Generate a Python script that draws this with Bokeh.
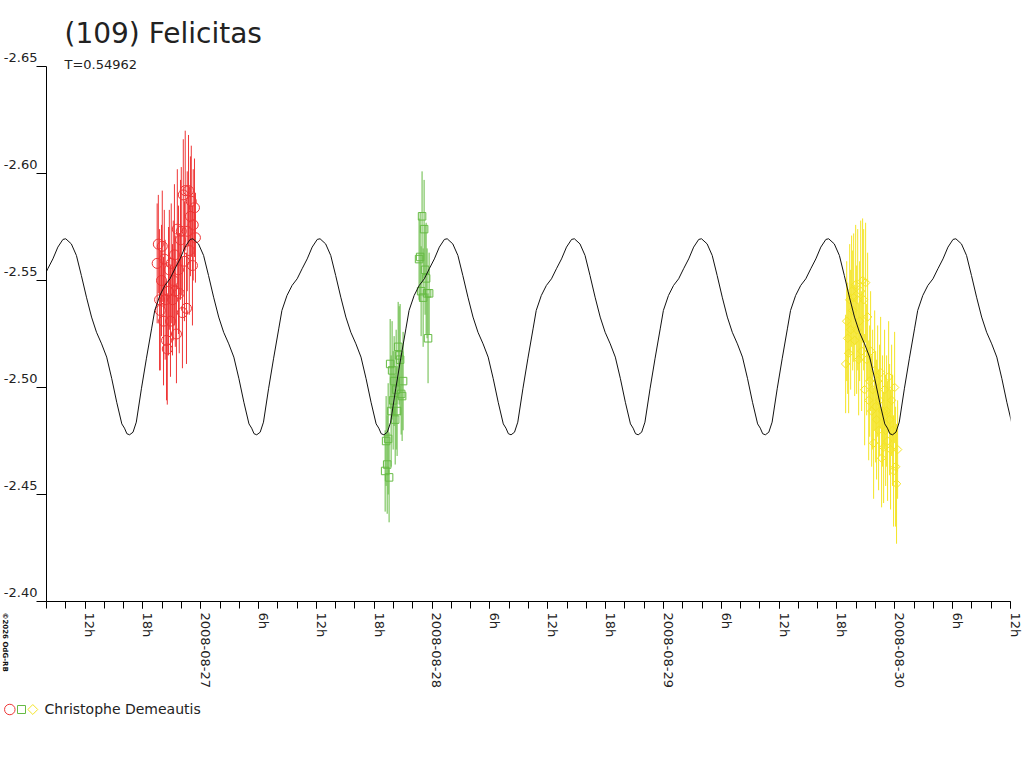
import numpy as np
import pandas as pd
from bokeh.plotting import figure
from bokeh.models import Range1d, FixedTicker, CustomJSTickFormatter, Title, ColumnDataSource
from bokeh.layouts import column, row
from bokeh.embed import file_html
from bokeh.resources import INLINE
from bokeh.core.properties import value

# ---------------- data ----------------
BASE = "2008-08-26 00:00"          # times below are hours after this instant (UT)
TITLE = "(109) Felicitas"
PERIOD_D = 0.54962                 # T (days)
SUBTITLE = "T=0.54962"
OBSERVER = "Christophe Demeautis"
COPYRIGHT = "\u00a92026 OdG-RB"

x_start_h = 8.0
x_end_h = 108.0
x_major_h = [12, 18, 24, 30, 36, 42, 48, 54, 60, 66, 72, 78, 84, 90, 96, 102, 108]
x_minor_h = list(range(8, 109, 2))
y_ticks = [-2.65, -2.60, -2.55, -2.50, -2.45, -2.40]

# session 1 (red circles)
red_t = [19.48, 19.60, 19.73, 19.80, 19.93, 20.01, 20.14, 20.22, 20.31, 20.45,
         20.53, 20.66, 20.74, 20.86, 20.94, 21.07, 21.15, 21.27, 21.36, 21.48,
         21.57, 21.69, 21.77, 21.90, 21.98, 22.10, 22.19, 22.31, 22.39, 22.52,
         22.60, 22.73, 22.81, 22.93, 23.02, 23.14, 23.22, 23.35, 23.45]
red_mag = [-2.558, -2.567, -2.541, -2.536, -2.550, -2.566, -2.531, -2.560, -2.541, -2.522,
           -2.518, -2.545, -2.555, -2.531, -2.558, -2.541, -2.550, -2.562, -2.545, -2.525,
           -2.574, -2.555, -2.544, -2.569, -2.573, -2.535, -2.590, -2.559, -2.592, -2.537,
           -2.573, -2.592, -2.564, -2.580, -2.587, -2.557, -2.576, -2.584, -2.570]
red_err = [0.028, 0.023, 0.033, 0.028, 0.026, 0.026, 0.030, 0.023, 0.028, 0.028,
           0.026, 0.030, 0.028, 0.026, 0.028, 0.026, 0.028, 0.033, 0.026, 0.023,
           0.028, 0.030, 0.028, 0.028, 0.030, 0.026, 0.026, 0.028, 0.028, 0.026,
           0.028, 0.026, 0.030, 0.028, 0.026, 0.028, 0.026, 0.023, 0.021]

# session 2 (green squares)
green_t = [43.13, 43.23, 43.34, 43.44, 43.54, 43.65, 43.75, 43.85, 43.96, 44.06,
           44.17, 44.27, 44.37, 44.48, 44.58, 44.68, 44.79, 44.89, 44.99, 46.65,
           46.76, 46.86, 46.96, 47.07, 47.17, 47.27, 47.38, 47.48, 47.58, 47.69]
green_mag = [-2.461, -2.475, -2.464, -2.476, -2.458, -2.511, -2.489, -2.508, -2.494, -2.503,
             -2.485, -2.499, -2.489, -2.519, -2.515, -2.513, -2.497, -2.496, -2.503, -2.560,
             -2.561, -2.545, -2.580, -2.542, -2.574, -2.555, -2.551, -2.544, -2.523, -2.544]
green_err = [0.019, 0.021, 0.023, 0.026, 0.021, 0.021, 0.026, 0.023, 0.023, 0.021,
             0.021, 0.028, 0.021, 0.021, 0.023, 0.026, 0.019, 0.021, 0.023, 0.019,
             0.021, 0.021, 0.021, 0.023, 0.023, 0.021, 0.026, 0.021, 0.021, 0.019]

# session 3 (yellow diamonds)
yellow_t = [90.90, 91.01, 91.11, 91.21, 91.32, 91.42, 91.52, 91.63, 91.73, 91.84,
            91.94, 92.04, 92.15, 92.25, 92.35, 92.46, 92.56, 92.66, 92.77, 92.87,
            92.97, 93.08, 93.18, 93.29, 93.39, 93.49, 93.60, 93.70, 93.80, 93.91,
            94.01, 94.11, 94.22, 94.32, 94.42, 94.53, 94.63, 94.73, 94.84, 94.94,
            95.05, 95.15, 95.25, 95.36, 95.46, 95.56, 95.67, 95.77, 95.87, 95.98,
            96.08, 96.18, 96.29]
yellow_mag = [-2.511, -2.531, -2.523, -2.516, -2.541, -2.527, -2.545, -2.536, -2.542, -2.522,
              -2.548, -2.527, -2.541, -2.513, -2.531, -2.545, -2.517, -2.550, -2.541, -2.499,
              -2.549, -2.513, -2.533, -2.494, -2.503, -2.517, -2.489, -2.499, -2.474, -2.508,
              -2.491, -2.485, -2.503, -2.480, -2.494, -2.507, -2.467, -2.489, -2.472, -2.499,
              -2.480, -2.489, -2.475, -2.505, -2.485, -2.471, -2.494, -2.480, -2.461, -2.500,
              -2.463, -2.455, -2.471]
yellow_err = [0.023, 0.028, 0.026, 0.028, 0.026, 0.028, 0.026, 0.028, 0.030, 0.026,
              0.028, 0.030, 0.033, 0.026, 0.028, 0.033, 0.028, 0.029, 0.033, 0.026,
              0.028, 0.026, 0.030, 0.028, 0.026, 0.028, 0.026, 0.028, 0.026, 0.028,
              0.026, 0.028, 0.026, 0.028, 0.026, 0.026, 0.023, 0.026, 0.026, 0.028,
              0.026, 0.026, 0.028, 0.026, 0.026, 0.028, 0.026, 0.026, 0.026, 0.026,
              0.028, 0.028, 0.023]

# model light curve: one cycle (phase 0 = minimum)
curve_epoch_h = 56.19
curve_phase = [0.000, 0.027, 0.053, 0.093, 0.132, 0.173, 0.198, 0.238, 0.278, 0.318,
               0.357, 0.397, 0.436, 0.476, 0.498, 0.542, 0.582, 0.621, 0.661, 0.701,
               0.740, 0.780, 0.820, 0.860, 0.899, 0.939, 0.960, 0.979]
curve_mag = [-2.4779, -2.4791, -2.4838, -2.4994, -2.5134, -2.5274, -2.5360, -2.5430, -2.5477, -2.5508,
             -2.5555, -2.5601, -2.5656, -2.5692, -2.5695, -2.5671, -2.5617, -2.5523, -2.5422, -2.5329,
             -2.5258, -2.5204, -2.5142, -2.5041, -2.4931, -2.4830, -2.4810, -2.4784]

# ---------------- styles ----------------
RED = "#ee3535"
GREEN = "#66bb44"
YELLOW = "#f4e424"
FONT = "DejaVu Sans"
TEXT = "#222222"
W = 1024
MAIN_H = 700
FOOT_H = 140
FOOT_OVERLAP = 100


def to_time(hours):
    return (pd.Timestamp(BASE) + pd.to_timedelta(np.asarray(hours, dtype=float), unit="h")).to_numpy()


def to_ms(hours):
    t0 = (pd.Timestamp(BASE) - pd.Timestamp("1970-01-01")) / pd.Timedelta(milliseconds=1)
    return [float(t0 + h * 3600000.0) for h in hours]


p = figure(width=W, height=MAIN_H, x_axis_type="datetime", title=None,
           x_range=Range1d(to_time([x_start_h])[0], to_time([x_end_h])[0]),
           y_range=Range1d(-2.40, -2.65),
           output_backend="svg", toolbar_location=None,
           min_border_left=45, min_border_right=14, min_border_top=66, min_border_bottom=99)
p.outline_line_color = None
p.xgrid.visible = False
p.ygrid.visible = False


def series_source(t, mag, err):
    t = np.asarray(t, dtype=float)
    mag = np.asarray(mag, dtype=float)
    err = np.asarray(err, dtype=float)
    return ColumnDataSource(dict(t=to_time(t), mag=mag, lo=mag - err, hi=mag + err))


src_red = series_source(red_t, red_mag, red_err)
src_green = series_source(green_t, green_mag, green_err)
src_yellow = series_source(yellow_t, yellow_mag, yellow_err)

p.segment(x0="t", y0="lo", x1="t", y1="hi", source=src_red, line_color=RED, line_width=1)
p.segment(x0="t", y0="lo", x1="t", y1="hi", source=src_green, line_color=GREEN, line_width=1)
p.segment(x0="t", y0="lo", x1="t", y1="hi", source=src_yellow, line_color=YELLOW, line_width=1)

p.scatter(x="t", y="mag", source=src_red, marker="circle", size=10,
          fill_color=None, line_color=RED, line_width=1)
p.scatter(x="t", y="mag", source=src_green, marker="square", size=7.5,
          fill_color=None, line_color=GREEN, line_width=1)
p.scatter(x="t", y="mag", source=src_yellow, marker="square", angle=np.pi / 4, size=6,
          fill_color=None, line_color=YELLOW, line_width=1)

# model curve repeated with the period T shown on the chart
P_h = PERIOD_D * 24.0
cycles = np.arange(-4, 5)
ct = (curve_epoch_h + (cycles[:, None] + np.asarray(curve_phase)[None, :]) * P_h).ravel()
cm = np.tile(np.asarray(curve_mag), len(cycles))
p.line(x=to_time(ct), y=cm, line_color="#111111", line_width=1)

# x axis
xa = p.xaxis[0]
xa.ticker = FixedTicker(ticks=to_ms(x_major_h), minor_ticks=to_ms(x_minor_h))
xa.formatter = CustomJSTickFormatter(code="""
const d = new Date(tick);
const h = d.getUTCHours();
let s;
if (h === 0) { s = d.toISOString().slice(0, 10); } else { s = h + "h"; }
return s + "\\n\\u00a0";
""")
xa.major_label_orientation = -np.pi / 2
xa.major_tick_in = 0
xa.major_tick_out = 7
xa.minor_tick_in = 0
xa.minor_tick_out = 7
xa.major_label_standoff = 4
xa.major_label_text_line_height = 0.65
xa.axis_line_color = "black"
xa.major_tick_line_color = "black"
xa.minor_tick_line_color = "black"
xa.major_label_text_font = FONT
xa.major_label_text_font_size = "13px"
xa.major_label_text_color = TEXT

# y axis
ya = p.yaxis[0]
ya.ticker = FixedTicker(ticks=y_ticks, minor_ticks=[])
ya.formatter = CustomJSTickFormatter(code="return tick.toFixed(2) + '\\n\\u00a0';")
ya.major_tick_in = 0
ya.major_tick_out = 10
ya.minor_tick_out = 0
ya.minor_tick_in = 0
ya.major_label_standoff = -1
ya.major_label_text_line_height = 1.25
ya.axis_line_color = "black"
ya.major_tick_line_color = "black"
ya.major_label_text_font = FONT
ya.major_label_text_font_size = "13px"
ya.major_label_text_color = TEXT

# titles (first added sits nearest to the frame)
p.add_layout(Title(text=SUBTITLE, align="left", offset=18, standoff=-10,
                   text_font=FONT, text_font_size="13px", text_font_style="normal",
                   text_color=TEXT), "above")
p.add_layout(Title(text=TITLE, align="left", offset=18, standoff=19,
                   text_font=FONT, text_font_size="28px", text_font_style="normal",
                   text_color=TEXT), "above")

# footer: transparent strip overlapping the bottom of the chart, with the
# copyright note and the observer legend
foot = figure(width=W, height=FOOT_H, x_range=Range1d(0, W), y_range=Range1d(FOOT_H, 0),
              output_backend="svg", toolbar_location=None, min_border=0, title=None,
              x_axis_location=None, y_axis_location=None)
foot.outline_line_color = None
foot.background_fill_color = None
foot.border_fill_color = None
foot.grid.visible = False
foot.text(x=[4], y=[12], text=[COPYRIGHT], angle=-np.pi / 2, text_font=value(FONT),
          text_font_size="7px", text_font_style="bold", text_color="#111111",
          text_align="left", text_baseline="middle")
foot.scatter(x=[9.3], y=[109], marker="circle", size=10.5, fill_color=None, line_color=RED, line_width=1)
foot.scatter(x=[21], y=[109], marker="square", size=8, fill_color=None, line_color=GREEN, line_width=1)
foot.scatter(x=[32.3], y=[109], marker="square", angle=np.pi / 4, size=7, fill_color=None,
             line_color=YELLOW, line_width=1)
foot.text(x=[44], y=[108.5], text=[OBSERVER], text_font=value(FONT), text_font_size="14px",
          text_baseline="middle", text_align="left", text_color=TEXT)

foot_row = row(foot)
foot_row.margin = (-FOOT_OVERLAP, 0, 0, 0)

layout = column(p, foot_row)
open("out.html", "w").write(file_html(layout, INLINE))
